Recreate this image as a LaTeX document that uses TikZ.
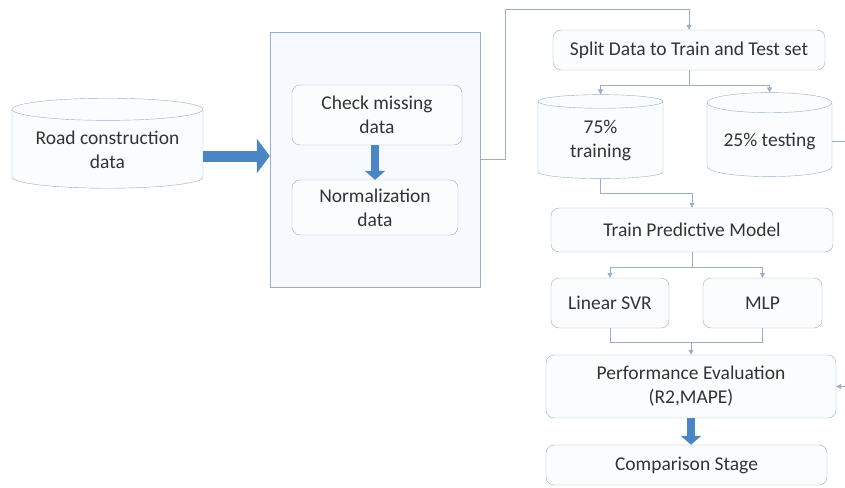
\documentclass[tikz,border=0pt]{standalone}
\usepackage{fontspec}
\setmainfont{Carlito}
\usetikzlibrary{positioning,shapes.geometric,arrows.meta,calc}

\definecolor{edgeblue}{HTML}{9AAEC8}
\definecolor{boxfill}{HTML}{FAFCFE}
\definecolor{panelfill}{HTML}{F6F9FD}
\definecolor{fatblue}{HTML}{4A86C5}
\definecolor{txtgray}{HTML}{333333}

\tikzset{
  stage/.style={draw=edgeblue, fill=boxfill, rounded corners=8pt, align=center,
                text=txtgray, font=\fontsize{19.5}{24}\selectfont, inner sep=2pt},
  db/.style={cylinder, shape border rotate=90, aspect=0.13, draw=edgeblue,
             fill=boxfill, align=center, text=txtgray,
             font=\fontsize{19.5}{24}\selectfont, inner sep=2pt},
  link/.style={draw=edgeblue, line width=0.7pt, -{Triangle[length=5pt,width=5pt]}},
  plain/.style={draw=edgeblue, line width=0.7pt},
  fatarrow/.style={draw=fatblue, line width=11pt, -{Triangle[length=13pt,width=34pt]}},
  slimarrow/.style={draw=fatblue, line width=8pt, -{Triangle[length=9pt,width=20pt]}}
}

\begin{document}
\begin{tikzpicture}[x=1pt, y=-1pt]
\useasboundingbox (0,0) rectangle (845,487);

% -- left: raw data
\node[db, aspect=0.15, minimum width=191pt, minimum height=90pt] (road) at (107.5,150) {Road construction\\data};

% -- middle: preprocessing panel
\node[draw=edgeblue, fill=panelfill, minimum width=210pt, minimum height=255pt] (prep) at (375,159.5) {};
\node[stage, minimum width=170pt, minimum height=60pt] (check) at (377,115) {Check missing\\data};
\node[stage, minimum width=166pt, minimum height=55pt] (norm) at (375,207.5) {Normalization\\data};

% -- right column
\node[stage, minimum width=272pt, minimum height=40pt] (split) at (689,50) {Split Data to Train and Test set};
\node[db, aspect=0.21, minimum width=125pt, minimum height=84pt] (train75) at (600.5,141) {75\%\\training};
\node[db, aspect=0.21, minimum width=125pt, minimum height=84pt] (test25) at (769.5,141) {25\% testing};
\node[stage, minimum width=282pt, minimum height=44pt] (model) at (692,230) {Train Predictive Model};
\node[stage, minimum width=118pt, minimum height=50pt] (svr) at (610,303) {Linear SVR};
\node[stage, minimum width=119pt, minimum height=50pt] (mlp) at (762.5,303) {MLP};
\node[stage, minimum width=290pt, minimum height=63pt] (perf) at (691,386.5) {Performance Evaluation\\(R2,MAPE)};
\node[stage, minimum width=281pt, minimum height=40pt] (comp) at (686.5,465) {Comparison Stage};

% -- block arrows
\draw[fatarrow] (road.east |- 0,156) -- (prep.west |- 0,156);
\draw[slimarrow] (norm.north |- check.south) -- (norm.north);
\draw[slimarrow] (perf.south) -- (perf.south |- comp.north);

% -- thin connectors
\coordinate (bend) at (505,9);
\draw[link] (prep.east) -| (bend) -| (split.north);
\draw[link] (split.south) -- ++(0,15) -| (train75.north);
\draw[link] (split.south) ++(0,15) -| (test25.north);
\draw[link] (train75.south) -- ++(0,15) -| (model.north);
\draw[link] (model.south) -- ++(0,15) -| (svr.north);
\draw[link] (model.south) ++(0,15) -| (mlp.north);
\coordinate (join) at ($(svr.south)!0.5!(mlp.south)+(0,14)$);
\draw[plain] (svr.south) |- (join) -| (mlp.south);
\draw[link] (perf.north |- join) -- (perf.north);
\draw[link] (test25.east) -- ++(20,0) |- (perf.east);

\end{tikzpicture}
\end{document}
